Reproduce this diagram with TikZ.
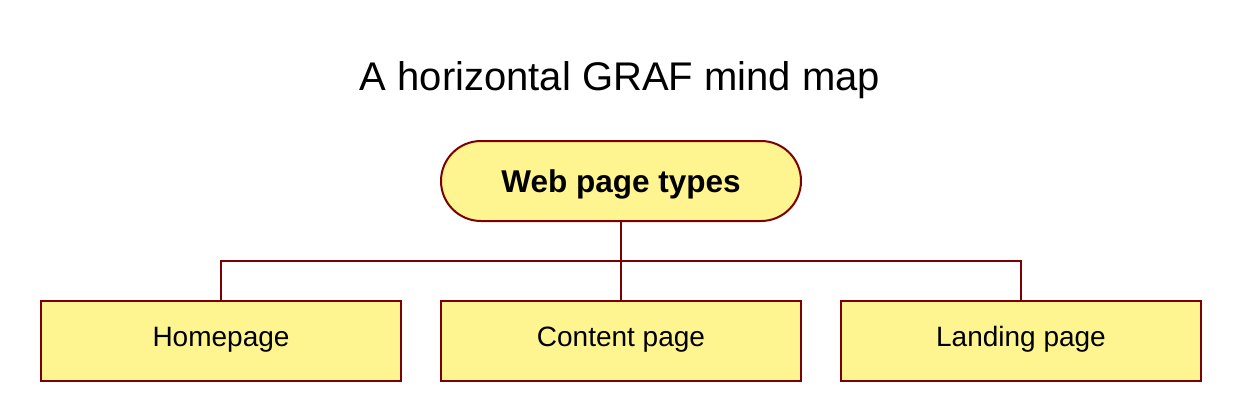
\documentclass[tikz,border=0pt]{standalone}
\usepackage{fontspec}
\setmainfont{Liberation Sans}
\usepackage{tikz}
\usetikzlibrary{calc}
\definecolor{boxfill}{RGB}{255, 245, 144}
\definecolor{boxline}{RGB}{123, 0, 0}

\tikzset{
  rootbox/.style={draw=boxline, fill=boxfill, line width=2pt, rounded corners=40pt,
    minimum width=360pt, minimum height=80pt, inner sep=0pt,
    font=\fontsize{31.5}{38}\selectfont\bfseries, text height=23pt, text depth=0pt},
  leafbox/.style={draw=boxline, fill=boxfill, line width=2pt,
    minimum width=360pt, minimum height=80pt, inner sep=0pt,
    font=\fontsize{28}{34}\selectfont, text height=20pt, text depth=9pt},
  link/.style={draw=boxline, line width=2pt}
}

\begin{document}
\begin{tikzpicture}[x=1pt, y=-1pt]
      \useasboundingbox (0,0) rectangle (1240,420);

      \node[anchor=base, font=\fontsize{40}{48}\selectfont] (title) at (620,90) {A horizontal GRAF mind map};

      \node[rootbox] (root) at (621,181) {Web page types};

      \node[leafbox] (home) at (221,341) {Homepage};
      \node[leafbox] (content) at (621,341) {Content page};
      \node[leafbox] (landing) at (1021,341) {Landing page};

      % branches
      \coordinate (fork) at (621,261);
      \draw[link] (root.south) -- (fork);
      \draw[link] (fork) -| (home.north);
      \draw[link] (fork) -- (content.north);
      \draw[link] (fork) -| (landing.north);

    \end{tikzpicture}
\end{document}
